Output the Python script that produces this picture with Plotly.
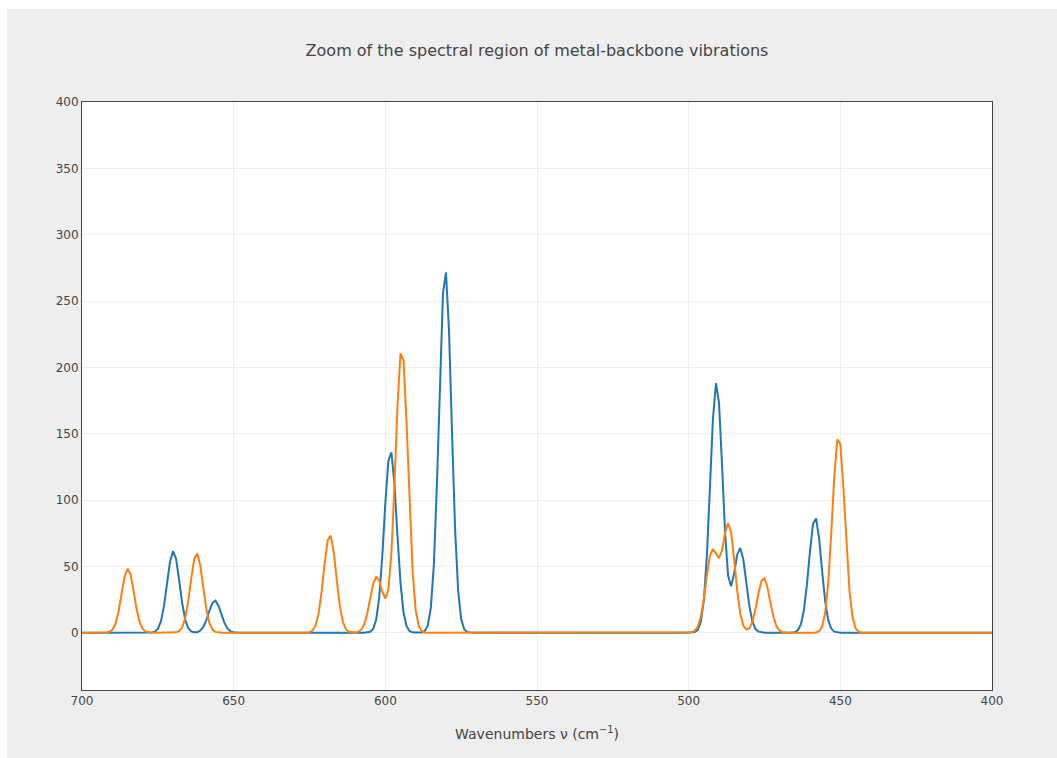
import plotly.graph_objects as go

# ---- Data (1 cm^-1 sampling inside peak regions) ----
x_start, x_end = 700, 400

# Series 1 (blue)
blue_seg1_x = list(range(678, 647, -1))
blue_seg1_y = [0, 0.2, 0.7, 2.8, 8.3, 19.6, 36.4, 53.3, 61.4, 55.9, 40.0, 22.6, 10.1, 3.5, 1.0, 0.3,
               0.4, 1.6, 4.3, 9.5, 16.5, 22.4, 24.1, 20.4, 13.6, 7.2, 3.0, 1.0, 0.3, 0.1, 0]
blue_seg2_x = list(range(607, 570, -1))
blue_seg2_y = [0, 0.1, 0.65, 2.9, 9.9, 27.0, 57.8, 97.5, 129.7, 136.0, 112.4, 73.2, 37.6, 15.2, 4.9,
               1.2, 0.25, 0.05, 0.1, 0.2, 1.2, 5.4, 18.7, 51.3, 111.3, 190.1, 255.8, 271.5, 227.1,
               149.8, 77.8, 31.9, 10.3, 2.6, 0.5, 0.1, 0]
blue_seg3_x = list(range(501, 474, -1))
blue_seg3_y = [0, 0.02, 0.07, 0.43, 2.1, 8.0, 24.3, 57.9, 108.8, 161.1, 188.0, 173.2, 126.5, 75.5,
               42.8, 35.0, 44.9, 58.8, 63.9, 55.4, 37.9, 20.4, 8.7, 2.9, 0.8, 0.15, 0]
blue_seg4_x = list(range(467, 449, -1))
blue_seg4_y = [0, 0.1, 0.4, 1.8, 6.3, 17.1, 36.6, 61.7, 82.1, 86.1, 71.1, 46.3, 23.8, 9.6, 3.1, 0.8,
               0.16, 0]

# Series 2 (orange)
orange_seg1_x = list(range(693, 653, -1))
orange_seg1_y = [0, 0.1, 0.6, 2.2, 6.5, 15.4, 28.6, 41.8, 48.2, 43.9, 31.5, 17.8, 7.9, 2.8, 0.8, 0.2,
                 0.05, 0, 0, 0, 0, 0, 0, 0.02, 0.25, 1.1, 3.9, 10.7, 23.6, 40.8, 55.6, 59.7, 50.6,
                 33.7, 17.7, 7.4, 2.4, 0.6, 0.1, 0]
orange_seg2_x = list(range(627, 585, -1))
orange_seg2_y = [0, 0.07, 0.35, 1.6, 5.3, 14.5, 31.1, 52.5, 69.8, 73.2, 60.5, 39.4, 20.2, 8.2, 2.6,
                 0.7, 0.2, 0.1, 0.6, 2.1, 6.1, 14.1, 25.6, 36.9, 42.2, 39.1, 30.9, 25.7, 32.4, 60.0,
                 110.8, 170.8, 210.5, 205.1, 157.8, 95.8, 45.9, 17.2, 5.1, 1.2, 0.2, 0]
orange_seg3_x = list(range(501, 466, -1))
orange_seg3_y = [0, 0.05, 0.3, 1.3, 4.4, 11.9, 25.4, 43.1, 57.9, 63.1, 59.4, 56.2, 62.1, 74.9, 82.7,
                 75.6, 55.2, 31.9, 14.5, 5.4, 2.4, 3.3, 8.1, 17.4, 29.4, 39.2, 41.1, 33.9, 22.1,
                 11.4, 4.6, 1.5, 0.4, 0.1, 0]
orange_seg4_x = list(range(459, 441, -1))
orange_seg4_y = [0, 0.2, 1.1, 4.6, 14.8, 37.5, 74.8, 117.6, 145.7, 142.3, 109.5, 66.5, 31.8, 12.0,
                 3.5, 0.8, 0.1, 0]

x_ticks = [700, 650, 600, 550, 500, 450, 400]
y_ticks = [0, 50, 100, 150, 200, 250, 300, 350, 400]

blue_x = [x_start] + blue_seg1_x + blue_seg2_x + blue_seg3_x + blue_seg4_x + [x_end]
blue_y = [0] + blue_seg1_y + blue_seg2_y + blue_seg3_y + blue_seg4_y + [0]
orange_x = [x_start] + orange_seg1_x + orange_seg2_x + orange_seg3_x + orange_seg4_x + [x_end]
orange_y = [0] + orange_seg1_y + orange_seg2_y + orange_seg3_y + orange_seg4_y + [0]

fig = go.Figure()
fig.add_trace(go.Scatter(x=blue_x, y=blue_y, mode="lines",
                         line=dict(color="#1f77b4", width=2), name="spectrum 1"))
fig.add_trace(go.Scatter(x=orange_x, y=orange_y, mode="lines",
                         line=dict(color="#ff7f0e", width=2), name="spectrum 2"))

W, H = 1057, 758
L, R, T, B = 82, 65, 102, 68
pw, ph = W - L - R, H - T - B

fig.update_layout(
    template="none",
    width=W, height=H,
    margin=dict(l=L, r=R, t=T, b=B, pad=0),
    paper_bgcolor="#eeeeee",
    plot_bgcolor="white",
    font=dict(family="DejaVu Sans", size=12, color="#444"),
    title=dict(text="Zoom of the spectral region of metal-backbone vibrations",
               x=0.5, xref="paper", xanchor="center",
               y=1 - 50 / H, yref="container", yanchor="middle",
               font=dict(size=16, color="#444")),
    showlegend=False,
    shapes=[
        dict(type="rect", xref="paper", yref="paper", x0=-0.5, x1=(7 - L) / pw, y0=-0.5, y1=1.6,
             fillcolor="white", line=dict(width=0), layer="above"),
        dict(type="rect", xref="paper", yref="paper", x0=-0.5, x1=1.5, y0=(H - B - 9) / ph, y1=1.6,
             fillcolor="white", line=dict(width=0), layer="above"),
    ],
)
fig.update_xaxes(range=[700, 400], tickvals=x_ticks, showgrid=True, gridcolor="#eeeeee",
                 gridwidth=1, showline=True, linecolor="#444", linewidth=1, mirror=True,
                 zeroline=False, ticks="",
                 title=dict(text="Wavenumbers ν (cm<sup>−1</sup>)", standoff=21,
                            font=dict(size=14, color="#444")))
fig.update_yaxes(range=[-43.2, 400], tickvals=y_ticks, showgrid=True, gridcolor="#eeeeee",
                 gridwidth=1, showline=True, linecolor="#444", linewidth=1, mirror=True,
                 zeroline=True, zerolinecolor="#eeeeee", zerolinewidth=1, ticks="")

fig.write_html("out.html")
